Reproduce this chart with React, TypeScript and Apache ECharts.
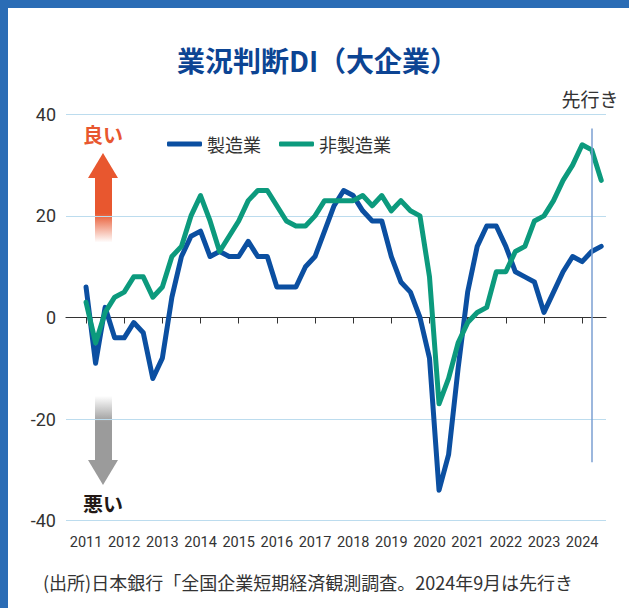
import React, { useEffect, useRef } from "react";
import * as echarts from "echarts";

// Quarterly survey, 2011 Mar (index 0) to 2024 Sep (forecast)
const years = ["2011","2012","2013","2014","2015","2016","2017","2018","2019","2020","2021","2022","2023","2024"];
const manufacturing = [
  6, -9, 2, -4,
  -4, -1, -3, -12,
  -8, 4, 12, 16,
  17, 12, 13, 12,
  12, 15, 12, 12,
  6, 6, 6, 10,
  12, 17, 22, 25,
  24, 21, 19, 19,
  12, 7, 5, 0,
  -8, -34, -27, -10,
  5, 14, 18, 18,
  14, 9, 8, 7,
  1, 5, 9, 12,
  11, 13, 14,
];
const nonManufacturing = [
  3, -5, 1, 4,
  5, 8, 8, 4,
  6, 12, 14, 20,
  24, 19, 13, 16,
  19, 23, 25, 25,
  22, 19, 18, 18,
  20, 23, 23, 23,
  23, 24, 22, 24,
  21, 23, 21, 20,
  8, -17, -12, -5,
  -1, 1, 2, 9,
  9, 13, 14, 19,
  20, 23, 27, 30,
  34, 33, 27,
];
const seriesNames = ["製造業", "非製造業"];
const yTicks = [-40, -20, 0, 20, 40];
const forecastStart = 53; // 2024 Jun

const BLUE = "#0b4fa1";
const GREEN = "#0c9a7d";
const NUM_FONT = "Roboto, 'Liberation Sans', sans-serif";
const JP_FONT = "'Noto Sans CJK JP', 'Noto Sans', sans-serif";

export default function App() {
  const ref = useRef<HTMLDivElement>(null);
  useEffect(() => {
    if (!ref.current) return;
    const chart = echarts.init(ref.current, null, { renderer: "svg" });
    const yearTicks = years.map((_, i) => i * 4);
    const toPairs = (arr: number[]) => arr.map((v, i) => [i, v]);
    chart.setOption({
      animation: false,
      backgroundColor: "#ffffff",
      grid: { left: 66, right: 23, top: 114.3, bottom: 87.3, containLabel: false },
      legend: {
        left: 162,
        top: 130,
        itemWidth: 35,
        itemHeight: 5,
        itemGap: 18,
        icon: "roundRect",
        textStyle: { fontSize: 18, color: "#333", fontFamily: JP_FONT },
        data: seriesNames,
      },
      xAxis: [
        {
          type: "value",
          min: -2.1,
          max: 54.5,
          axisLine: { show: true, onZero: true, lineStyle: { color: "#333", width: 1.2 } },
          axisTick: { show: true, customValues: yearTicks, length: 6, lineStyle: { color: "#333", width: 1 } },
          axisLabel: { show: false },
          splitLine: { show: false },
        },
        {
          type: "value",
          min: -2.1,
          max: 54.5,
          position: "bottom",
          axisLine: { show: false, onZero: false },
          axisTick: { show: false },
          axisLabel: {
            show: true,
            customValues: yearTicks,
            formatter: (v: number) => years[Math.round(v / 4)] ?? "",
            fontSize: 14.5,
            color: "#333",
            fontFamily: NUM_FONT,
            margin: 14,
          },
          splitLine: { show: false },
        },
      ],
      yAxis: {
        type: "value",
        min: yTicks[0],
        max: yTicks[yTicks.length - 1],
        interval: 20,
        axisLine: { show: false },
        axisTick: { show: false },
        axisLabel: { fontSize: 18, color: "#333", fontFamily: NUM_FONT, margin: 10 },
        splitLine: { show: true, lineStyle: { color: "#bcdcee", width: 1.2 } },
      },
      series: [
        {
          name: seriesNames[0],
          type: "line",
          data: toPairs(manufacturing),
          showSymbol: false,
          symbol: "none",
          itemStyle: { color: BLUE },
          lineStyle: { color: BLUE, width: 5, join: "round", cap: "round" },
          markLine: {
            silent: true,
            symbol: ["none", "none"],
            label: { show: false },
            data: [
              [
                { coord: [forecastStart, 37.2], lineStyle: { color: "#7b9fd2", width: 1.5, type: "solid" } },
                { coord: [forecastStart, -28.5] },
              ],
              [
                { coord: [forecastStart, 37.2], lineStyle: { color: "#1a5bb5", width: 1.5, type: "solid" } },
                { coord: [forecastStart + 1.65, 37.2], symbol: "triangle", symbolSize: [8, 9] },
              ],
            ],
          },
        },
        {
          name: seriesNames[1],
          type: "line",
          data: toPairs(nonManufacturing),
          showSymbol: false,
          symbol: "none",
          itemStyle: { color: GREEN },
          lineStyle: { color: GREEN, width: 5, join: "round", cap: "round" },
        },
      ],
      graphic: [
        { type: "rect", shape: { x: 0, y: 0, width: 629, height: 8 }, style: { fill: "#2a6cb5" }, silent: true },
        { type: "rect", shape: { x: 0, y: 0, width: 8, height: 608 }, style: { fill: "#2a6cb5" }, silent: true },
        {
          type: "text",
          x: 317.5,
          y: 60,
          style: {
            text: "業況判断DI（大企業）",
            fontSize: 28,
            fontWeight: "bold",
            fontFamily: JP_FONT,
            fill: "#0c4493",
            align: "center",
            verticalAlign: "middle",
          },
        },
        {
          type: "text",
          x: 590,
          y: 98,
          style: { text: "先行き", fontSize: 19, fontFamily: JP_FONT, fill: "#333", align: "center", verticalAlign: "middle" },
        },
        {
          type: "text",
          x: 103,
          y: 134.5,
          style: { text: "良い", fontSize: 20, fontWeight: "bold", fontFamily: JP_FONT, fill: "#e8572f", align: "center", verticalAlign: "middle" },
        },
        {
          type: "polygon",
          shape: { points: [[103, 153], [88, 178], [118, 178]] },
          style: { fill: "#e8572f" },
        },
        {
          type: "rect",
          shape: { x: 95, y: 177.5, width: 17, height: 65 },
          style: {
            fill: new echarts.graphic.LinearGradient(0, 0, 0, 1, [
              { offset: 0, color: "#e8572f" },
              { offset: 0.55, color: "#e8572f" },
              { offset: 1, color: "rgba(255,255,255,1)" },
            ]),
          },
        },
        {
          type: "rect",
          shape: { x: 95, y: 396, width: 17, height: 64.5 },
          style: {
            fill: new echarts.graphic.LinearGradient(0, 0, 0, 1, [
              { offset: 0, color: "rgba(255,255,255,1)" },
              { offset: 0.4, color: "#9b9b9b" },
              { offset: 1, color: "#9b9b9b" },
            ]),
          },
        },
        {
          type: "polygon",
          shape: { points: [[88, 460], [118, 460], [103, 485]] },
          style: { fill: "#9b9b9b" },
        },
        {
          type: "text",
          x: 103,
          y: 503.5,
          style: { text: "悪い", fontSize: 20, fontWeight: "bold", fontFamily: JP_FONT, fill: "#231815", align: "center", verticalAlign: "middle" },
        },
        {
          type: "text",
          x: 43,
          y: 582,
          style: {
            text: "(出所)日本銀行「全国企業短期経済観測調査。2024年9月は先行き",
            fontSize: 18,
            fontFamily: JP_FONT,
            fill: "#333",
            align: "left",
            verticalAlign: "middle",
          },
        },
      ],
    });
    return () => chart.dispose();
  }, []);
  return (
    <div
      ref={ref}
      style={{ position: "fixed", left: 0, top: 0, width: 629, height: 608 }}
    />
  );
}
